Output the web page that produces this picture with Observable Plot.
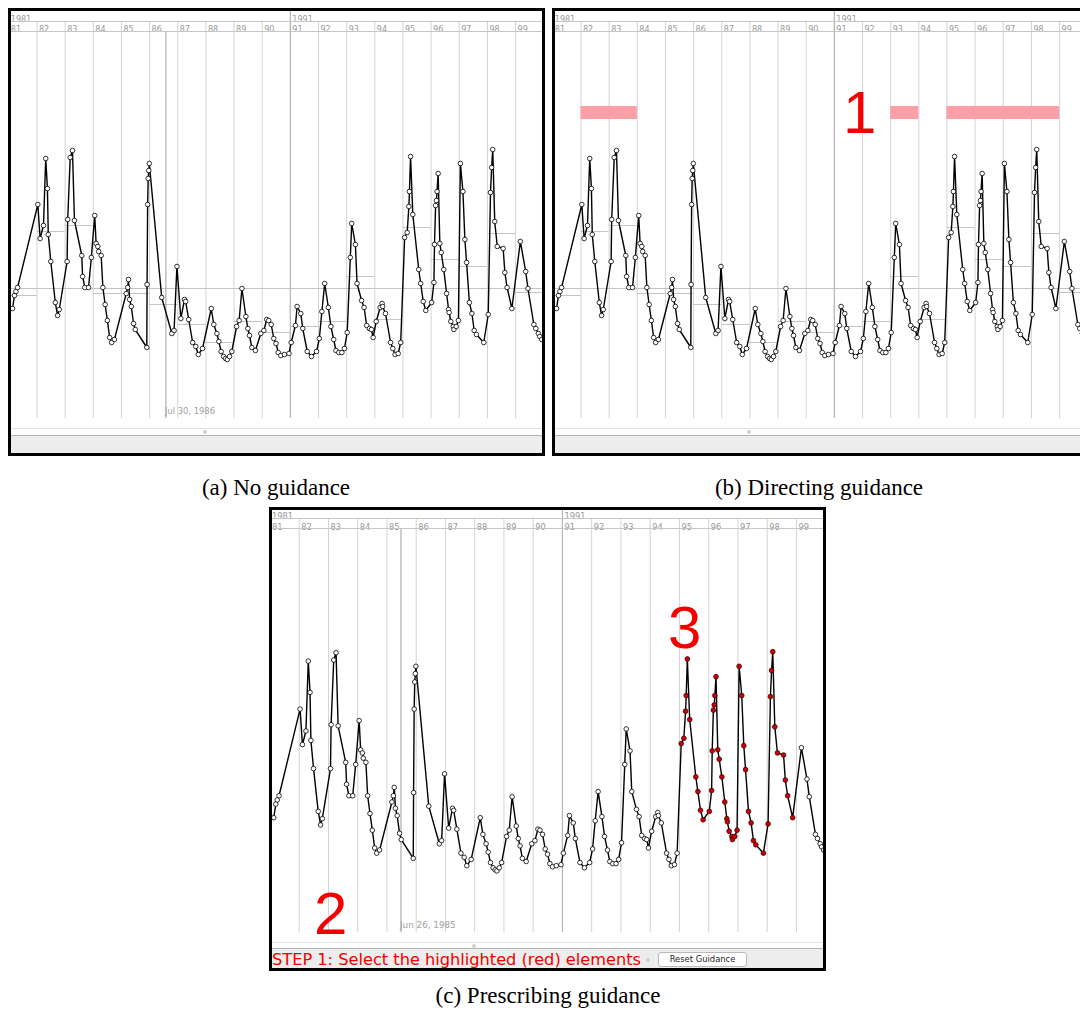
<!DOCTYPE html>
<html>
<head>
<meta charset="utf-8">
<script src="https://cdn.jsdelivr.net/npm/d3@7"></script>
<script src="https://cdn.jsdelivr.net/npm/@observablehq/plot@0.6"></script>
<style>
  html, body { margin: 0; padding: 0; background: #fff; overflow: hidden; width: 1080px; height: 1017px; }
  #fig { position: relative; width: 1080px; height: 1017px; }
  .panel { position: absolute; border: 3px solid #000; box-sizing: border-box; overflow: hidden; background: #fff; }
  .panel svg { position: absolute; left: 0; top: 0; display: block; max-width: none; }
  .hline { position: absolute; left: 0; right: 0; height: 1px; }
  .gray { position: absolute; left: 0; right: 0; bottom: 0; background: #ededed; }
  .thumb { position: absolute; width: 4px; height: 4px; border-radius: 2px; background: #cfcfcf; }
  .button { position: absolute; box-sizing: border-box; border: 1px solid #b9b9b9; border-radius: 3px; background: #fff;
            font: 8.4px "DejaVu Sans", sans-serif; color: #222; text-align: center; line-height: 12px; }
  #overlay { position: absolute; left: 0; top: 0; pointer-events: none; }
</style>
</head>
<body>
<div id="fig"></div>
<script>
// ---------- data ----------
const dates = [
  1981.13, 1981.20, 1981.25, 1981.31,
  1982.03, 1982.11, 1982.23, 1982.31, 1982.37, 1982.40, 1982.49, 1982.65, 1982.73, 1982.79,
  1983.07, 1983.09, 1983.18, 1983.26, 1983.33, 1983.59, 1983.62, 1983.70, 1983.83, 1983.93,
  1984.05, 1984.10, 1984.16, 1984.19, 1984.28, 1984.34, 1984.42, 1984.50, 1984.58, 1984.65, 1984.75,
  1985.17, 1985.22, 1985.25, 1985.29, 1985.35, 1985.43, 1985.49, 1985.90, 1985.91, 1985.93, 1985.95, 1985.97, 1985.99,
  1986.43, 1986.79, 1986.87, 1986.97,
  1987.11, 1987.24, 1987.28, 1987.39, 1987.53, 1987.64, 1987.73, 1987.88,
  1988.19, 1988.28, 1988.39, 1988.46, 1988.54, 1988.63, 1988.70, 1988.76, 1988.84, 1988.92,
  1989.09, 1989.18, 1989.28, 1989.42, 1989.49, 1989.55, 1989.63, 1989.76, 1989.95,
  1990.06, 1990.16, 1990.23, 1990.32, 1990.41, 1990.49, 1990.57, 1990.66, 1990.79, 1990.95,
  1991.03, 1991.18, 1991.24, 1991.37, 1991.44, 1991.60, 1991.75, 1991.93,
  1992.03, 1992.12, 1992.22, 1992.35, 1992.44, 1992.54, 1992.62, 1992.72, 1992.83, 1992.92,
  1993.02, 1993.13, 1993.18, 1993.31, 1993.37, 1993.53, 1993.62, 1993.71, 1993.81, 1993.88, 1993.94,
  1994.05, 1994.19, 1994.26, 1994.28, 1994.38, 1994.56, 1994.64, 1994.72, 1994.83, 1994.92,
  1995.06, 1995.15, 1995.21, 1995.23, 1995.27, 1995.35, 1995.56, 1995.63, 1995.72, 1995.81,
  1996.02, 1996.10, 1996.12, 1996.16, 1996.19, 1996.21, 1996.25, 1996.31, 1996.36, 1996.45, 1996.55,
  1996.62, 1996.64, 1996.70, 1996.79, 1996.81, 1996.89, 1996.97,
  1997.04, 1997.13, 1997.20, 1997.26, 1997.36, 1997.45, 1997.53, 1997.61, 1997.87,
  1998.03, 1998.11, 1998.15, 1998.19, 1998.26, 1998.35, 1998.56, 1998.62, 1998.70, 1998.87,
  1999.17, 1999.36, 1999.44, 1999.65, 1999.72, 1999.81, 1999.86, 1999.93
];
const values = [
  110, 123, 127, 131,
  214, 180, 193, 260, 230, 184, 157, 116, 103, 109,
  157, 199, 261, 268, 198, 163, 142, 131, 131, 161,
  203, 175, 172, 167, 163, 131, 114, 98, 81, 76, 79,
  125, 131, 139, 119, 112, 95, 89, 71, 134, 214, 240, 248, 255,
  121, 85, 88, 152,
  100, 119, 117, 99, 76, 72, 64, 70,
  110, 94, 85, 77, 67, 62, 60, 59, 62, 67,
  92, 98, 130, 102, 90, 83, 71, 68, 85,
  88, 99, 98, 94, 80, 75, 66, 63, 64, 65,
  76, 93, 112, 105, 90, 67, 62, 67,
  80, 107, 135, 111, 92, 79, 68, 66, 66, 70,
  86, 161, 195, 174, 135, 118, 111, 93, 90, 89, 81,
  97, 111, 115, 112, 105, 76, 70, 64, 65, 76,
  181, 186, 212, 227, 262, 204, 149, 135, 117, 108,
  116, 136, 174, 213, 218, 227, 245, 175, 166, 149, 125,
  109, 106, 97, 92, 89, 92, 98,
  255, 227, 179, 156, 116, 105, 88, 84, 76,
  104, 226, 251, 269, 197, 172, 170, 146, 131, 110,
  177, 147, 130, 94, 90, 85, 82, 79
];
const yearTicks = [1981, 1982, 1983, 1984, 1985, 1986, 1987, 1988, 1989, 1990,
                   1991, 1992, 1993, 1994, 1995, 1996, 1997, 1998, 1999];
const decadeLabels = [1981, 1991];
const meanYears = yearTicks;
const meanValues = [123, 187, 193, 125, 125, 114, 94, 76, 97, 86, 92, 97, 142, 99, 191, 159, 152, 185, 126];
const overallMean = 130;
const highlightStarts = [1982, 1993, 1995];
const highlightEnds = [1984, 1994, 1999];
const guidedRange = [1995.0, 1998.9];
const cursorDates = [1986.58, 1985.48];
const cursorLabels = ["Jul 30, 1986", "Jun 26, 1985"];
const captions = ["(a) No guidance", "(b) Directing guidance", "(c) Prescribing guidance"];
const stepText = "STEP 1: Select the highlighted (red) elements";
const buttonText = "Reset Guidance";
const valueMax = 387;

// ---------- tables built from the arrays ----------
const series = dates.map((t, i) => ({t, v: values[i]}));
const means = meanYears.map((y, i) => ({year: y, v: meanValues[i]}));
const highlights = highlightStarts.map((s, i) => ({start: s, end: highlightEnds[i]}));
const inGuided = d => d.t >= guidedRange[0] && d.t <= guidedRange[1];

const fig = document.getElementById("fig");

function buildPanel(o) {
  const div = document.createElement("div");
  div.className = "panel";
  Object.assign(div.style, {left: o.left + "px", top: o.top + "px", width: o.width + "px", height: o.height + "px"});
  const W = o.width - 6, H = o.height - 6;
  const fb = H - o.marginBottom;

  const marks = [
    Plot.ruleX(yearTicks, {x: d => d, stroke: "#d3d3d3", strokeWidth: 1, insetTop: -o.rowH}),
    Plot.ruleX([1991], {x: d => d, stroke: "#b5b5b5", strokeWidth: 1.2, insetTop: -o.marginTop}),
    Plot.text(yearTicks, {x: d => d, text: d => String(d).slice(2), frameAnchor: "top", dy: o.labelDy, dx: 2,
      textAnchor: "start", fill: "#999999", fontSize: o.labelSize}),
    Plot.text(decadeLabels, {x: d => d, text: d => String(d), frameAnchor: "top", dy: o.decadeDy, dx: 2,
      textAnchor: "start", fill: "#999999", fontSize: o.labelSize})
  ];
  if (o.showMeans) {
    marks.push(Plot.ruleY([overallMean], {stroke: "#c4c4c4", strokeWidth: 1}));
    marks.push(Plot.ruleY(means, {x1: "year", x2: d => d.year + 1, y: "v", stroke: "#c4c4c4", strokeWidth: 1}));
  }
  if (o.showHighlights) {
    marks.push(Plot.rect(highlights, {x1: "start", x2: "end", y1: 299, y2: 312, fill: "#fc9fa7"}));
  }
  if (o.cursor != null) {
    marks.push(Plot.ruleX([cursorDates[o.cursor]], {stroke: "#9c9c9c", strokeWidth: 1}));
    marks.push(Plot.text([cursorLabels[o.cursor]], {x: () => cursorDates[o.cursor], text: d => d, frameAnchor: "bottom",
      dy: -5, dx: -1, textAnchor: "start", fill: "#a0a0a0", fontSize: o.cursorSize}));
  }
  marks.push(Plot.line(series, {x: "t", y: "v", stroke: "#000", strokeWidth: 1.4}));
  if (o.showGuided) {
    marks.push(Plot.dot(series.filter(d => !inGuided(d)), {x: "t", y: "v", r: 2.3, fill: "#fff", stroke: "#000", strokeWidth: 0.8}));
    marks.push(Plot.dot(series.filter(inGuided), {x: "t", y: "v", r: 2.4, fill: "#c8000a", stroke: "#300", strokeWidth: 0.7}));
  } else {
    marks.push(Plot.dot(series, {x: "t", y: "v", r: 2.3, fill: "#fff", stroke: "#000", strokeWidth: 0.8}));
  }

  const svg = Plot.plot({
    width: W, height: H,
    marginTop: o.marginTop, marginBottom: o.marginBottom, marginLeft: 0, marginRight: 0,
    x: {type: "linear", domain: o.xDomain, axis: null},
    y: {domain: [0, valueMax], axis: null},
    style: {fontFamily: "'DejaVu Sans', sans-serif", background: "transparent", overflow: "visible"},
    marks
  });

  // header row lines
  const h1 = document.createElement("div"); h1.className = "hline";
  Object.assign(h1.style, {top: (o.marginTop - o.rowH - 0.5) + "px", background: "#c6c6c6"});
  const h2 = document.createElement("div"); h2.className = "hline";
  Object.assign(h2.style, {top: (o.marginTop - 0.5) + "px", background: "#c6c6c6"});
  // bottom scroll strip
  const b1 = document.createElement("div"); b1.className = "hline";
  Object.assign(b1.style, {top: (fb + 10) + "px", background: "#e2e2e2"});
  const thumb = document.createElement("div"); thumb.className = "thumb";
  Object.assign(thumb.style, {left: (o.thumbX - 2) + "px", top: (fb + 12) + "px"});
  const b2 = document.createElement("div"); b2.className = "hline";
  Object.assign(b2.style, {top: (fb + o.darkOff) + "px", background: "#b4b4b4"});
  const g = document.createElement("div"); g.className = "gray";
  Object.assign(g.style, {top: (fb + o.darkOff + 1) + "px"});

  div.appendChild(g);
  div.appendChild(svg);
  div.appendChild(h1); div.appendChild(h2); div.appendChild(b1); div.appendChild(thumb); div.appendChild(b2);
  fig.appendChild(div);
  return div;
}

buildPanel({left: 8, top: 8, width: 537, height: 448, marginTop: 20, rowH: 10, marginBottom: 35,
  xDomain: [1981.094, 1999.957], showMeans: true, cursor: 0, labelSize: 8, cursorSize: 8.4,
  labelDy: -5, decadeDy: -15.5, darkOff: 17, thumbX: 194});
buildPanel({left: 552, top: 8, width: 537, height: 448, marginTop: 20, rowH: 10, marginBottom: 35,
  xDomain: [1981.094, 1999.957], showMeans: true, showHighlights: true, cursor: null, labelSize: 8,
  labelDy: -5, decadeDy: -15.5, darkOff: 17, thumbX: 194});
buildPanel({left: 269, top: 507, width: 557, height: 464, marginTop: 18, rowH: 10, marginBottom: 36,
  xDomain: [1981.087, 1999.925], showGuided: true, cursor: 1, labelSize: 8.3, cursorSize: 8.8,
  labelDy: -4.5, decadeDy: -15, darkOff: 16, thumbX: 202});

// button
const btn = document.createElement("div");
btn.className = "button";
Object.assign(btn.style, {left: "658px", top: "952px", width: "89px", height: "15px"});
btn.textContent = buttonText;
fig.appendChild(btn);

// overlay: annotation numbers, step text, captions
const NS = "http://www.w3.org/2000/svg";
const ov = document.createElementNS(NS, "svg");
ov.setAttribute("id", "overlay");
ov.setAttribute("width", 1080); ov.setAttribute("height", 1017);
function addText(str, x, y, attrs) {
  const t = document.createElementNS(NS, "text");
  t.textContent = str;
  t.setAttribute("x", x); t.setAttribute("y", y);
  for (const k in attrs) t.setAttribute(k, attrs[k]);
  ov.appendChild(t);
}
const bigNum = {"font-family": "'Liberation Sans', Arial, sans-serif", "font-size": 60, fill: "#f50000"};
addText("1", 843, 133, bigNum);
addText("2", 314, 934, bigNum);
addText("3", 668, 648, bigNum);
addText(stepText, 272, 965, {"font-family": "'DejaVu Sans', sans-serif", "font-size": 16.2, fill: "#f00000"});
const dot = document.createElementNS(NS, "circle");
dot.setAttribute("cx", 648); dot.setAttribute("cy", 960); dot.setAttribute("r", 2); dot.setAttribute("fill", "#d0d0d0");
ov.appendChild(dot);
const capStyle = {"font-family": "'Liberation Serif', 'DejaVu Serif', serif", "font-size": 23, fill: "#000", "text-anchor": "middle"};
addText(captions[0], 276, 495, capStyle);
addText(captions[1], 819, 495, capStyle);
addText(captions[2], 548, 1003, capStyle);
fig.appendChild(ov);
</script>
</body>
</html>
